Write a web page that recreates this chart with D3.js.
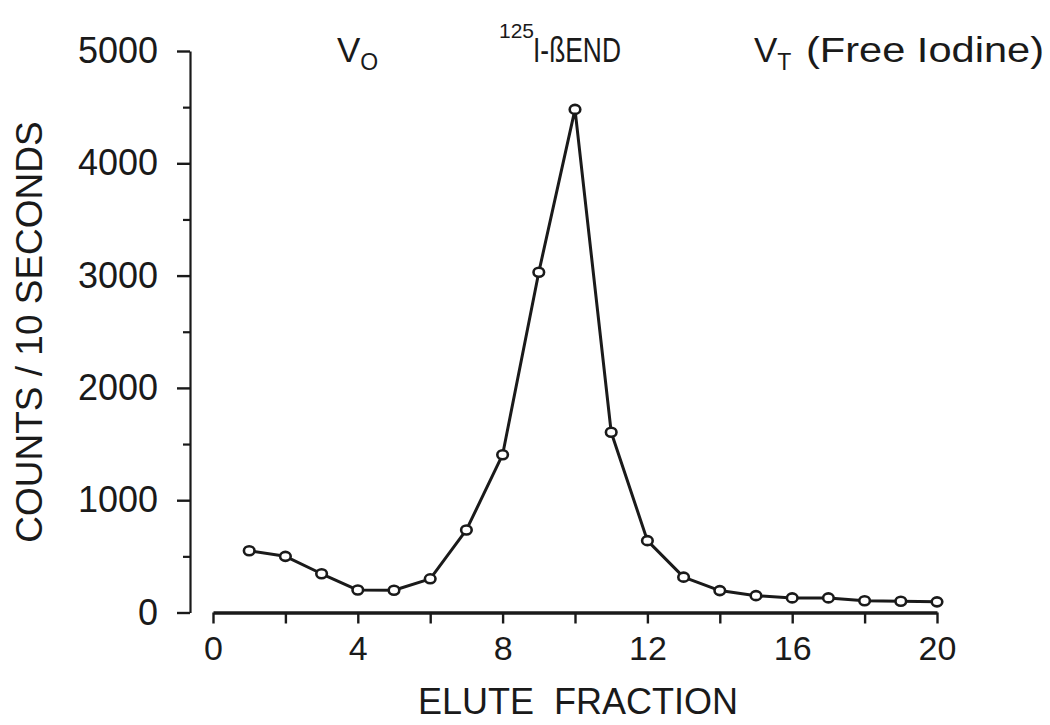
<!DOCTYPE html>
<html>
<head>
<meta charset="utf-8">
<script src="https://cdn.jsdelivr.net/npm/d3@7"></script>
<style>
  html, body { margin: 0; padding: 0; background: #fff; }
  svg { display: block; }
  text { font-family: "Liberation Sans", Arial, Helvetica, sans-serif; fill: #1a1a1a; }
</style>
</head>
<body>
<svg id="chart" width="1050" height="725"></svg>
<script>
// Elution profile: counts per 10 s for each collected fraction
const fractions = [1, 2, 3, 4, 5, 6, 7, 8, 9, 10, 11, 12, 13, 14, 15, 16, 17, 18, 19, 20];
const counts = [550, 500, 345, 200, 198, 300, 735, 1405, 3030, 4480, 1605, 640, 315, 195, 150, 130, 130, 105, 100, 95];

const yMajorTicks = [0, 1000, 2000, 3000, 4000, 5000];
const yMinorTicks = [500, 1500, 2500, 3500, 4500];
const xTicks = [0, 2, 4, 6, 8, 10, 12, 14, 16, 18, 20];
const xLabelledTicks = [0, 4, 8, 12, 16, 20];

const svg = d3.select("#chart");
const ink = "#1a1a1a";
const font = "Liberation Sans, Arial, sans-serif";

const x = d3.scaleLinear().domain([0, 20]).range([213, 937]);
const y = d3.scaleLinear().domain([0, 5000]).range([612.5, 51]);

// Y axis: labelled major ticks, short unlabelled minor ticks
const yAxisG = svg.append("g").attr("transform", "translate(190,0)")
  .call(d3.axisLeft(y).tickValues(yMajorTicks).tickSize(13).tickSizeOuter(0).tickPadding(19)
    .tickFormat(d3.format("d")));
yAxisG.select(".domain").attr("stroke", ink).attr("stroke-width", 2.2);
yAxisG.selectAll(".tick line").attr("stroke", ink).attr("stroke-width", 2.4);
yAxisG.selectAll(".tick text").attr("font-size", 36).attr("font-family", font).attr("fill", ink);

const yMinorG = svg.append("g").attr("transform", "translate(190,0)")
  .call(d3.axisLeft(y).tickValues(yMinorTicks).tickSize(7).tickSizeOuter(0).tickFormat(""));
yMinorG.select(".domain").remove();
yMinorG.selectAll(".tick line").attr("stroke", ink).attr("stroke-width", 2.2);

// X axis: heavy baseline with downward ticks every 2 fractions
const xAxisG = svg.append("g").attr("transform", `translate(0,${y(0)})`)
  .call(d3.axisBottom(x).tickValues(xTicks).tickSize(11).tickSizeOuter(0).tickPadding(12)
    .tickFormat(d => xLabelledTicks.includes(d) ? d : ""));
xAxisG.select(".domain").attr("stroke", ink).attr("stroke-width", 3.4);
xAxisG.selectAll(".tick line").attr("stroke", ink).attr("stroke-width", 2.4);
xAxisG.selectAll(".tick text").attr("font-size", 34).attr("font-family", font).attr("fill", ink);

// Axis titles
svg.append("text")
  .attr("transform", "translate(42,332) rotate(-90)")
  .attr("text-anchor", "middle")
  .attr("font-size", 37)
  .text("COUNTS / 10 SECONDS");

svg.append("text")
  .attr("x", 578).attr("y", 714)
  .attr("text-anchor", "middle")
  .attr("font-size", 36)
  .attr("xml:space", "preserve")
  .text("ELUTE  FRACTION");

// Column markers along the top
const vo = svg.append("text").attr("x", 337).attr("y", 62).attr("font-size", 35);
vo.append("tspan").text("V");
vo.append("tspan").attr("font-size", 23).attr("dy", 8).text("O");

svg.append("text").attr("x", 499).attr("y", 38).attr("font-size", 21).text("125");
svg.append("text").attr("x", 533).attr("y", 62).attr("font-size", 35)
  .attr("textLength", 88).attr("lengthAdjust", "spacingAndGlyphs")
  .text("I-ßEND");

const vt = svg.append("text").attr("x", 754).attr("y", 62).attr("font-size", 35);
vt.append("tspan").text("V");
vt.append("tspan").attr("font-size", 23).attr("dy", 8).text("T");
svg.append("text").attr("x", 806).attr("y", 62).attr("font-size", 35)
  .attr("textLength", 238).attr("lengthAdjust", "spacingAndGlyphs")
  .text("(Free Iodine)");

// Data line and open circle markers
const points = fractions.map((f, i) => ({ f, c: counts[i] }));

svg.append("path")
  .datum(points)
  .attr("fill", "none")
  .attr("stroke", ink)
  .attr("stroke-width", 3)
  .attr("stroke-linejoin", "round")
  .attr("d", d3.line().x(d => x(d.f)).y(d => y(d.c)));

svg.append("g").selectAll("ellipse")
  .data(points)
  .join("ellipse")
  .attr("cx", d => x(d.f))
  .attr("cy", d => y(d.c))
  .attr("rx", 5.3)
  .attr("ry", 4.5)
  .attr("fill", "#fff")
  .attr("stroke", ink)
  .attr("stroke-width", 2.6);
</script>
</body>
</html>
